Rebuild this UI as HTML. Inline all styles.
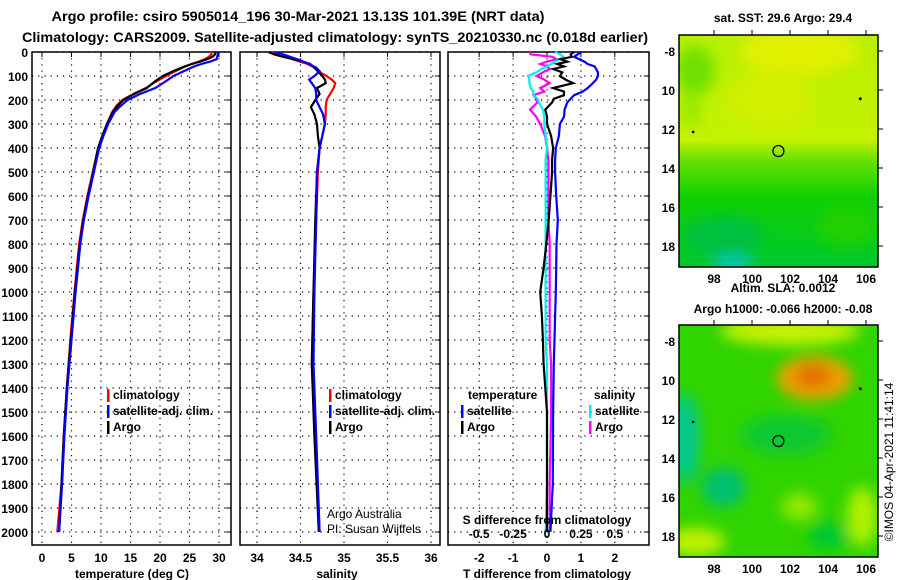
<!DOCTYPE html>
<html><head><meta charset="utf-8"><style>
html,body{margin:0;padding:0;background:#fff;}
svg{display:block;font-family:"Liberation Sans",sans-serif;}
</style></head><body>
<svg id="s" width="900" height="580" xmlns="http://www.w3.org/2000/svg">
<defs>
<filter id="blur6"><feGaussianBlur stdDeviation="7"/></filter>
<filter id="blur3"><feGaussianBlur stdDeviation="4"/></filter>
<clipPath id="c1"><rect x="679" y="35" width="199" height="232"/></clipPath>
<clipPath id="c2"><rect x="679" y="325" width="199" height="232"/></clipPath>
<linearGradient id="sstg" x1="0" y1="0" x2="0" y2="1">
<stop offset="0" stop-color="#b8f000"/><stop offset="0.45" stop-color="#c4f200"/><stop offset="0.55" stop-color="#60e000"/><stop offset="0.7" stop-color="#10d000"/><stop offset="1" stop-color="#00c830"/></linearGradient>
</defs>
<text x="298" y="21" text-anchor="middle" font-size="14" font-weight="bold" textLength="493" lengthAdjust="spacingAndGlyphs">Argo profile: csiro 5905014_196 30-Mar-2021 13.13S 101.39E (NRT data)</text>
<text x="335" y="42" text-anchor="middle" font-size="14" font-weight="bold" textLength="626" lengthAdjust="spacingAndGlyphs">Climatology: CARS2009. Satellite-adjusted climatology: synTS_20210330.nc (0.018d earlier)</text>
<g id="plots"></g>
<g id="maps"></g>
<text transform="translate(893,462) rotate(-90)" text-anchor="middle" font-size="12">©IMOS 04-Apr-2021 11:41:14</text>
</svg>
<script>
const NS="http://www.w3.org/2000/svg";
// ---- data ----
const depthT=[0,10,20,30,40,50,60,80,100,125,150,175,200,225,250,300,350,400,500,600,700,800,900,1000,1200,1400,1600,1800,2000];
const tempArgo=[29.4,29.3,28.9,28,26.8,25.4,24.2,22.2,20.5,19,17.8,15.6,13.8,12.8,12,11,10.2,9.5,8.7,7.8,7,6.4,6,5.6,4.9,4.2,3.7,3.3,2.9];
const tempClim=[28.8,28.7,28.3,27.6,26.6,25.3,24.3,22.6,21,19.2,17.6,15.5,13.6,12.6,11.9,11,10.3,9.5,8.6,7.7,6.9,6.3,5.9,5.5,4.8,4.2,3.7,3.3,2.6];
const tempSat=[29.8,29.8,29.7,29.6,28.5,27,25.8,24,22.3,20.8,19.2,16.6,14.5,13.3,12.3,11.2,10.4,9.7,8.8,7.9,7.1,6.5,6.1,5.7,5,4.3,3.8,3.4,2.9];
const depthS=[0,10,20,35,50,65,80,100,115,130,150,175,200,230,260,300,350,400,500,700,1000,1300,1600,2000];
const salArgo=[34.13,34.2,34.3,34.48,34.61,34.66,34.7,34.75,34.78,34.79,34.69,34.72,34.67,34.62,34.66,34.69,34.7,34.72,34.69,34.67,34.65,34.63,34.66,34.71];
const salClim=[34.15,34.25,34.33,34.45,34.58,34.66,34.7,34.8,34.86,34.9,34.88,34.84,34.8,34.79,34.79,34.78,34.75,34.72,34.7,34.68,34.65,34.63,34.67,34.72];
const salSat=[34.2,34.3,34.38,34.5,34.6,34.68,34.72,34.66,34.6,34.63,34.67,34.68,34.68,34.72,34.76,34.78,34.75,34.72,34.69,34.68,34.66,34.65,34.68,34.72];
const depthD=[0,10,20,30,40,50,60,71,85,100,115,130,150,165,180,195,210,240,270,300,350,400,450,500,600,700,800,900,1000,1100,1200,1300,1500,1800,2000];
const dTArgo=[0.8,0.7,0.73,0.4,0.6,0.3,0.5,0.18,0.45,0.38,0.55,0.77,0.18,0.5,0.5,0.2,0.15,-0.05,0.0,0.0,0.12,0.18,0.15,0.15,0.1,0.05,-0.02,-0.1,-0.2,-0.15,-0.12,-0.1,0.0,0.0,0.0];
const dTSat=[1.02,0.9,0.8,0.95,1.1,1.2,1.4,1.45,1.5,1.5,1.45,1.35,1.2,1.05,0.8,0.7,0.6,0.52,0.5,0.38,0.35,0.26,0.24,0.24,0.27,0.32,0.28,0.27,0.26,0.24,0.22,0.2,0.18,0.17,0.1];
const dSSat=[0.06,0.1,0.12,0.09,0.06,0.03,0.0,-0.04,-0.08,-0.14,-0.13,-0.13,-0.12,-0.1,-0.1,-0.07,-0.06,-0.03,-0.02,-0.02,-0.01,0.0,-0.01,-0.01,-0.01,-0.01,-0.01,-0.01,-0.01,-0.01,-0.01,0.0,0.0,0.0,-0.01];
const dSArgo=[-0.13,-0.12,0.04,0.07,0.0,-0.05,0.0,0.02,-0.03,-0.076,-0.02,0.02,-0.05,-0.02,-0.1,-0.08,-0.07,-0.125,-0.08,-0.05,-0.014,0.0,0.01,0.01,0.01,0.01,0.02,0.02,0.02,0.02,0.02,0.03,0.03,0.02,0.02];
const depthTicks=[0,100,200,300,400,500,600,700,800,900,1000,1100,1200,1300,1400,1500,1600,1700,1800,1900,2000];
const tempTicks=[0,5,10,15,20,25,30];
const salTicks=[34,34.5,35,35.5,36];
const dTTicks=[-2,-1,0,1,2];
const dSTicks=[-0.5,-0.25,0,0.25,0.5];
const lonTicks=[98,100,102,104,106];
const latTicks=[-8,-10,-12,-14,-16,-18];

function el(tag,attrs,parent,text){const e=document.createElementNS(NS,tag);for(const k in attrs)e.setAttribute(k,attrs[k]);if(text!==undefined)e.textContent=text;parent.appendChild(e);return e;}
const yD=d=>52+d*0.24;
const xT=t=>42+t*5.9;
const xS=s=>257+(s-34)*87;
const xDT=v=>547+v*33.9;
const xDS=v=>547+v*135.6;
const P=document.getElementById('plots');
const TOP=52,BOT=545;
function panel(x0,x1,name,ticks,fx,fmt,labelY,yLabels){
  const g=el('g',{},P);
  
  
  for(const d of depthTicks){el('line',{x1:x0,x2:x1,y1:yD(d),y2:yD(d),stroke:'#000','stroke-width':1.2,'stroke-dasharray':'1.2,5'},g);
    el('line',{x1:x1-5,x2:x1,y1:yD(d),y2:yD(d),stroke:'#000'},g);
    if(yLabels){const t=el('text',{x:28,y:yD(d)+5,'text-anchor':'end','font-size':12,'font-weight':'bold'},g,String(d));}}
  for(const v of ticks){const x=fx(v);el('line',{x1:x,x2:x,y1:TOP,y2:BOT,stroke:'#000','stroke-width':1.2,'stroke-dasharray':'1.2,5'},g);
    el('line',{x1:x,x2:x,y1:TOP,y2:TOP+5,stroke:'#000'},g);
    if(fmt){const t=el('text',{x:x,y:labelY,'text-anchor':'middle','font-size':12,'font-weight':'bold'},g,String(v));}}
  el('rect',{x:x0,y:TOP,width:x1-x0,height:BOT-TOP,fill:'none',stroke:'#000','stroke-width':1.5},g);
  return g;
}
function line(g,xs,ds,fx,color,name,w){
  const pts=xs.map((v,i)=>fx(v).toFixed(1)+','+yD(ds[i]).toFixed(1)).join(' ');
  const p=el('polyline',{points:pts,fill:'none',stroke:color,'stroke-width':w||2.2},g);
  
  
}
function legend(g,x,y,items){items.forEach((it,i)=>{el('rect',{x:x,y:y+i*16-10,width:2.5,height:13,fill:it[1]},g);
  const t=el('text',{x:x+6,y:y+i*16,'font-size':12,'font-weight':'bold'},g,it[0]);});}

const g1=panel(32,231,'temperature-panel',tempTicks,xT,true,562,true);
line(g1,tempClim,depthT,xT,'#f00','clim-temp-line');
line(g1,tempArgo,depthT,xT,'#000','argo-temp-line');
line(g1,tempSat,depthT,xT,'#00f','sat-temp-line');
legend(g1,107,399,[['climatology','#f00'],['satellite-adj. clim.','#00f'],['Argo','#000']]);
let t=el('text',{x:132,y:578,'text-anchor':'middle','font-size':12,'font-weight':'bold'},g1,'temperature (deg C)');

const g2=panel(240,440,'salinity-panel',salTicks,xS,true,562,false);
line(g2,salClim,depthS,xS,'#f00','clim-sal-line');
line(g2,salArgo,depthS,xS,'#000','argo-sal-line');
line(g2,salSat,depthS,xS,'#00f','sat-sal-line');
legend(g2,329,399,[['climatology','#f00'],['satellite-adj. clim.','#00f'],['Argo','#000']]);
t=el('text',{x:327,y:518,'font-size':12},g2,'Argo Australia');
t=el('text',{x:327,y:533,'font-size':12},g2,'PI: Susan Wijffels');
t=el('text',{x:337,y:578,'text-anchor':'middle','font-size':12,'font-weight':'bold'},g2,'salinity');

const g3=panel(448,649,'difference-panel',dTTicks,xDT,true,562,false);
line(g3,dSArgo,depthD,xDS,'#f0f','argo-sdiff-line');
line(g3,dSSat,depthD,xDS,'#0ee','sat-sdiff-line');
line(g3,dTArgo,depthD,xDT,'#000','argo-tdiff-line');
line(g3,dTSat,depthD,xDT,'#00f','sat-tdiff-line');
t=el('text',{x:468,y:399,'font-size':12,'font-weight':'bold'},g3,'temperature');
t=el('text',{x:594,y:399,'font-size':12,'font-weight':'bold'},g3,'salinity');
legend(g3,461,415,[['satellite','#00f'],['Argo','#000']]);
legend(g3,589,415,[['satellite','#0ee'],['Argo','#f0f']]);
t=el('text',{x:547,y:524,'text-anchor':'middle','font-size':12,'font-weight':'bold'},g3,'S difference from climatology');
for(const v of dSTicks){t=el('text',{x:xDS(v),y:538,'text-anchor':'middle','font-size':12,'font-weight':'bold'},g3,String(v));}
t=el('text',{x:547,y:578,'text-anchor':'middle','font-size':12,'font-weight':'bold'},g3,'T difference from climatology');

// ---- maps ----
const M=document.getElementById('maps');
const xL=l=>714+(l-98)*19;
function mapFrame(y0,latY,title,clip,blobs,base,name,titles){
  const g=el('g',{},M);
  
  
  const inner=el('g',{'clip-path':'url(#'+clip+')'},g);
  el('rect',{x:679,y:y0,width:199,height:232,fill:base},inner);
  const bl=el('g',{filter:'url(#blur6)'},inner);
  for(const b of blobs)el('ellipse',{cx:xL(b[0]),cy:latY(b[1]),rx:b[2],ry:b[3],fill:b[4]},bl);
  const c=el('circle',{cx:xL(101.39),cy:latY(-13.13),r:5.5,fill:'none',stroke:'#000','stroke-width':1.3},g);
  
  el('circle',{cx:xL(105.7),cy:latY(-10.45),r:1.5,fill:'#000'},g);
  el('circle',{cx:xL(96.9),cy:latY(-12.15),r:1.3,fill:'#000'},g);
  el('rect',{x:679,y:y0,width:199,height:232,fill:'none',stroke:'#000','stroke-width':1.5},g);
  for(const l of lonTicks){el('line',{x1:xL(l),x2:xL(l),y1:y0,y2:y0-5,stroke:'#000'},g);
    const tt=el('text',{x:xL(l),y:y0+248,'text-anchor':'middle','font-size':12,'font-weight':'bold'},g,String(l));}
  for(const a of latTicks){el('line',{x1:878,x2:883,y1:latY(a),y2:latY(a),stroke:'#000'},g);
    const tt=el('text',{x:675,y:latY(a)+5,'text-anchor':'end','font-size':12,'font-weight':'bold'},g,a===-8?'-8':String(-a));}
  titles.forEach(tl=>{const tt=el('text',{x:tl[1],y:tl[2],'text-anchor':'middle','font-size':12,'font-weight':'bold'},g,tl[0]);});
}
const lat1=a=>51+(-8-a)*19.5;
const lat2=a=>341+(-8-a)*19.5;
mapFrame(35,lat1,'','c1',[
 [102.5,-8,60,25,'#e0f000'],[101,-10.5,45,30,'#d0f000'],[97,-9,20,25,'#70e000'],[98.5,-17.5,40,20,'#00c040'],[99,-18.9,20,8,'#00c8c0'],[105,-17,30,20,'#20d000'],[96.8,-11,8,20,'#90e800']
],'url(#sstg)','sst-map',[['sat. SST: 29.6 Argo: 29.4',783,22]]);
mapFrame(325,lat2,'','c2',[
 [102,-7.5,70,14,'#c8f000'],[103.3,-9.9,38,22,'#f0a000'],[103.2,-9.8,18,12,'#e07000'],[96.5,-13,14,45,'#00c890'],[98.5,-15.5,22,20,'#00c070'],[101.8,-12.8,45,20,'#10c830'],[97,-18.3,30,14,'#c0f000'],[105.8,-17,15,30,'#b0f000'],[102.5,-16.5,18,14,'#90e800'],[104,-18,20,14,'#00c830']
],'#30d400','sla-map',[['Altim. SLA: 0.0012',783,292],['Argo h1000: -0.066 h2000: -0.08',783,313]]);
</script>
</body></html>
